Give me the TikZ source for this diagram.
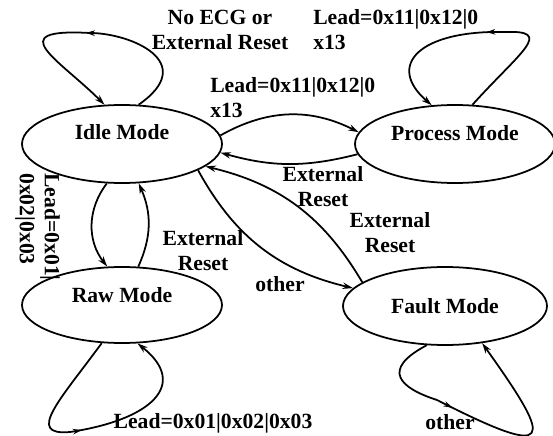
\documentclass[tikz,border=0pt]{standalone}
\usepackage{fontspec}
\setmainfont{Liberation Serif}
\usetikzlibrary{arrows.meta}
\usetikzlibrary{shapes.geometric}
\usetikzlibrary{decorations.markings}

\tikzset{
  mode/.style={ellipse, draw, line width=1.25pt, minimum width=5cm, minimum height=1.95cm, inner sep=0pt},
  trans/.style={-{Stealth[length=2.6mm,width=1.6mm]}, line width=1.25pt},
  midarrow/.style={postaction={decorate},
    decoration={markings, mark=at position #1 with {\arrow{Stealth[length=2.2mm,width=1.4mm]}}}},
  cond/.style={inner sep=0pt, align=center}
}

\begin{document}
\begin{tikzpicture}[x=1cm,y=1cm,font=\fontsize{15.4}{17.8}\selectfont\bfseries]
      \useasboundingbox (0,0) rectangle (13.825,10.875);

      % states
      \node[mode, label={[yshift=3mm]center:Idle Mode}] (idle) at (3.05,7.275) {};
      \node[mode, label={[yshift=2.75mm]center:Process Mode}] (process) at (11.375,7.275) {};
      \node[mode, minimum height=1.9cm, label={[yshift=2.5mm]center:Raw Mode}] (raw) at (3.05,3.25) {};
      \node[mode, minimum width=5.1cm, label={center:Fault Mode}] (fault) at (11.125,3.225) {};

      % self loops
      \draw[trans, midarrow=0.5] (idle.67) .. controls (5.0,9.325) and (3.25,10.05) .. (2.25,10.05)
        .. controls (0,10.175) and (1.5,9.375) .. (idle.114);
      \draw[trans, midarrow=0.5] (process.66) .. controls (13.0,9.575) and (13.875,10.125) .. (12.625,10.075)
        .. controls (10.5,10.125) and (9.625,9.25) .. (process.121);
      \draw[trans, midarrow=0.48] (raw.242) .. controls (1.5,0.875) and (0.625,-0.025) .. (1.75,0.075)
        .. controls (3.75,0.375) and (4.75,1.25) .. (raw.292);
      \draw[trans, midarrow=0.36] (fault.245) .. controls (9.5,1.625) and (10.0,1.175) .. (10.925,0.875)
        .. controls (13.875,-0.625) and (13.875,-0.25) .. (fault.315);

      % transitions between states
      \draw[trans] (idle.5) to[bend left=28] (process.173);
      \draw[trans] (process.186) to[bend left=15] (idle.-5);
      \draw[trans] (idle.-19) to[bend right=24] (fault.169);
      \draw[trans] (fault.164) to[bend right=23] (idle.-15);
      \draw[trans] (idle.249) to[bend right=38] (raw.111);
      \draw[trans] (raw.67) to[bend right=24] (idle.293);

      % conditions
      \node[cond] (noecg) at (5.5,10.125) {No ECG or\\External Reset};
      \node[cond, align=left, anchor=west] (leadtop) at (7.825,10.14) {Lead=0x11|0x12|0\\x13};
      \node[cond, align=left, anchor=west] (leadmid) at (5.25,8.44) {Lead=0x11|0x12|0\\x13};
      \node[cond] (resetproc) at (8.075,6.2) {External\\Reset};
      \node[cond] (resetfault) at (9.75,5.05) {External\\Reset};
      \node[cond] (resetraw) at (5.075,4.6) {External\\Reset};
      \node[cond] (otherfault) at (7.0,3.775) {other};
      \node[cond, rotate=-90, align=left] (leadside) at (0.94,5.2) {Lead=0x01|\\0x02|0x03};
      \node[cond] (leadraw) at (5.325,0.3) {Lead=0x01|0x02|0x03};
      \node[cond] (otherloop) at (11.25,0.325) {other};
    \end{tikzpicture}
\end{document}
